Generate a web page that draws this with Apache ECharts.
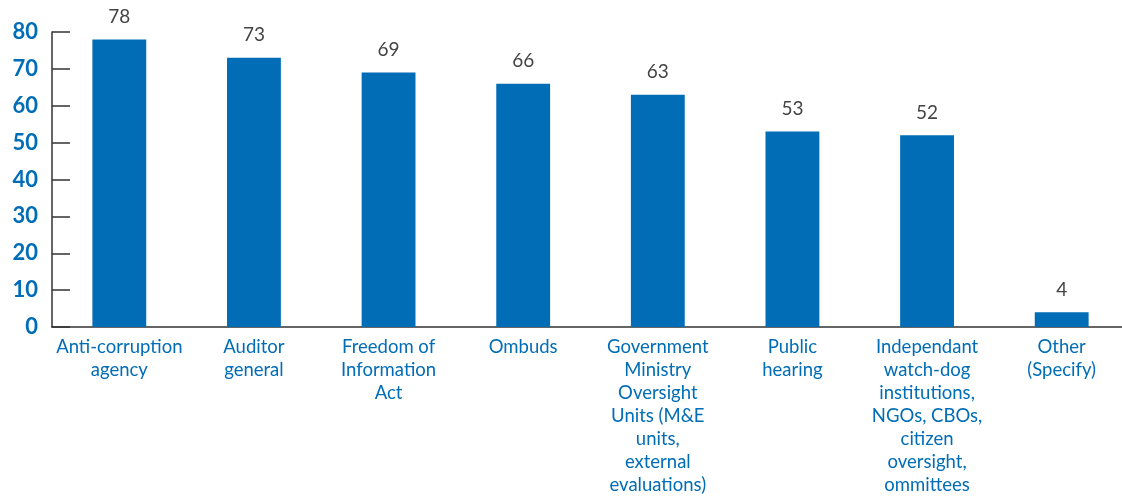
<!DOCTYPE html>
<html>
<head>
<meta charset="utf-8">
<script src="https://cdn.jsdelivr.net/npm/echarts@6/dist/echarts.min.js"></script>
<style>
  html, body { margin: 0; padding: 0; background: #fff; overflow: hidden; }
  #chart { width: 1130px; height: 502px; }
</style>
</head>
<body>
<div id="chart"></div>
<script>
// Oversight mechanisms and their reported counts
const categories = [
  'Anti-corruption\nagency',
  'Auditor\ngeneral',
  'Freedom of\nInformation\nAct',
  'Ombuds',
  'Government\nMinistry\nOversight\nUnits (M&E\nunits,\nexternal\nevaluations)',
  'Public\nhearing',
  'Independant\nwatch-dog\ninstitutions,\nNGOs, CBOs,\ncitizen\noversight,\nommittees',
  'Other\n(Specify)'
];
const values = [78, 73, 69, 66, 63, 53, 52, 4];

const BLUE = '#006db6';
const AXIS = '#333333';
const FONT = 'Lato, "Open Sans", sans-serif';

// The plot runs slightly past the right edge of the window, so the canvas is a bit wider
const chart = echarts.init(document.getElementById('chart'));
chart.setOption({
  animation: false,
  grid: { left: 52, right: 1, top: 32, bottom: 175, containLabel: false },
  xAxis: {
    type: 'category',
    data: categories,
    axisLine: { lineStyle: { color: AXIS, width: 1.5 } },
    axisTick: { inside: true, length: 6, lineStyle: { color: AXIS, width: 1.5 } },
    axisLabel: {
      color: BLUE,
      fontFamily: FONT,
      fontSize: 18.5,
      lineHeight: 23,
      margin: 9,
      interval: 0
    }
  },
  yAxis: {
    type: 'value',
    min: 0,
    max: 80,
    interval: 10,
    splitLine: { show: false },
    axisLine: { show: true, lineStyle: { color: AXIS, width: 1.5 } },
    axisTick: { show: true, inside: true, length: 18, lineStyle: { color: AXIS, width: 1.5 } },
    axisLabel: {
      color: BLUE,
      fontFamily: FONT,
      fontSize: 22,
      fontWeight: 'bold',
      margin: 14
    }
  },
  series: [{
    type: 'bar',
    data: values,
    barWidth: '40%',
    itemStyle: { color: BLUE },
    label: {
      show: true,
      position: 'top',
      distance: 13,
      color: '#444444',
      fontFamily: FONT,
      fontSize: 19
    }
  }]
});
</script>
</body>
</html>
